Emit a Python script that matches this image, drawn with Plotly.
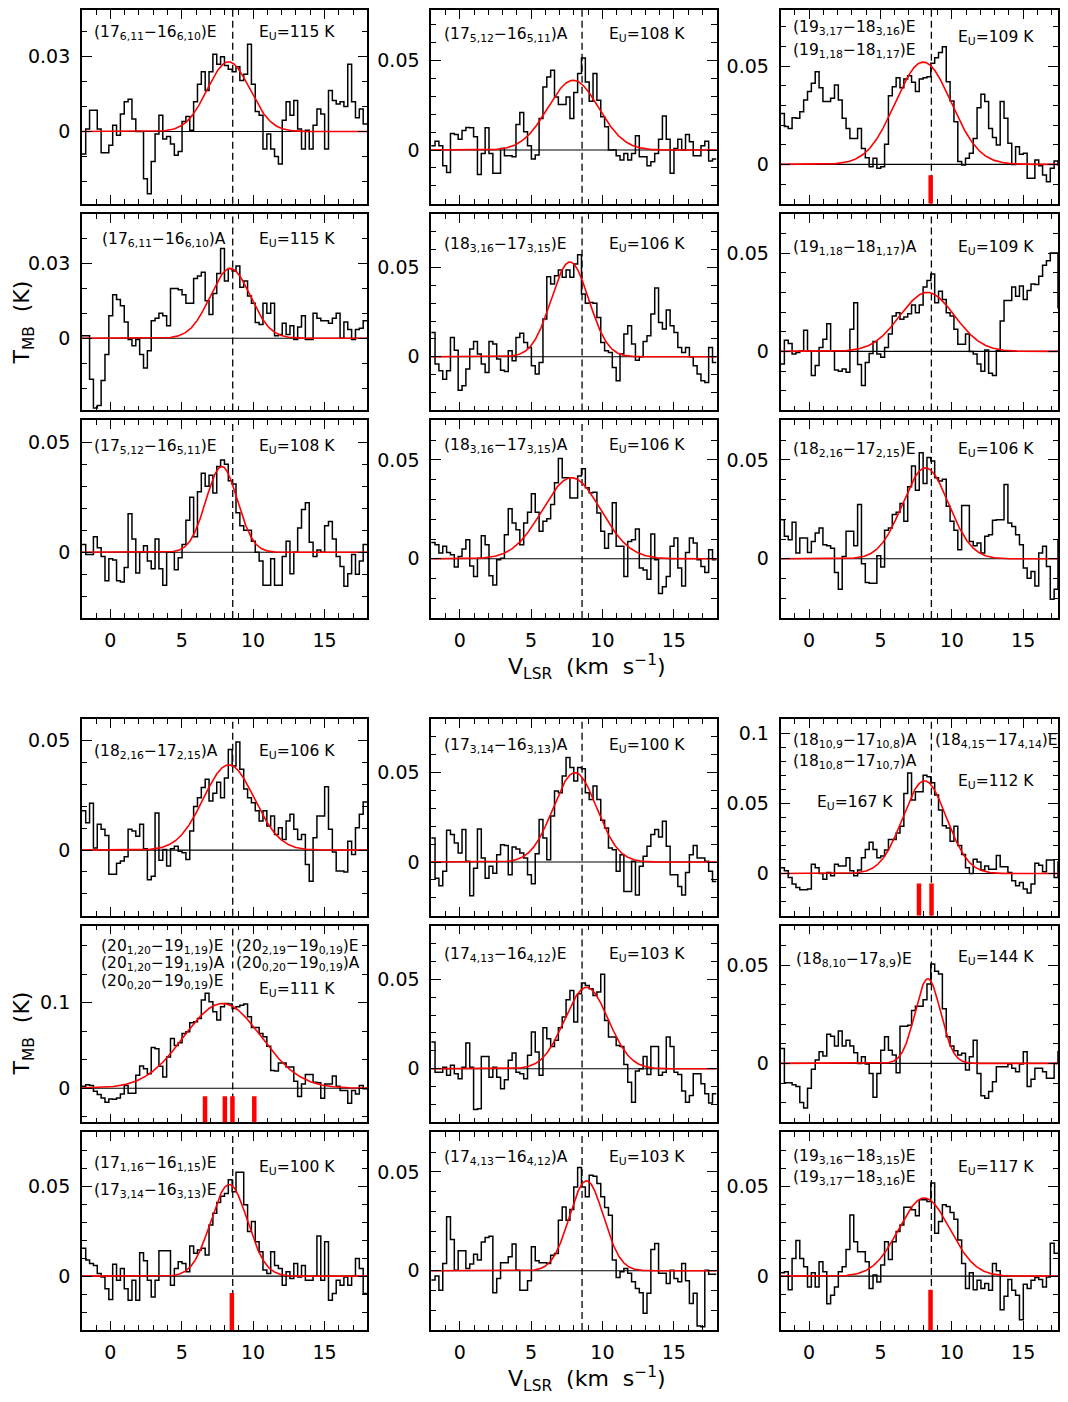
import numpy as np
import plotly.graph_objects as go

# The page body has an 8 px margin on every side: the figure is drawn 16 px smaller
# so the page is exactly 1068x1402, and reference pixel positions are shifted by OFF.
OFF = 8
W, H = 1068 - 2 * OFF, 1402 - 2 * OFF
FONT = "DejaVu Sans"

# ---------------- data ----------------
V_START = -2.0          # km/s, first channel edge
CHAN_W = 0.27           # km/s channel width
V_SYS = 8.57            # km/s, dashed reference velocity
V_RANGE = [-2.0, 18.0]
X_TICKS = [0, 5, 10, 15]

spec_c1r1 = [-0.009, 0.001, 0.0085, 0.0085, 0.001, -0.0085, -0.0085, -0.0055, 0.0025, -0.0015,
             0.007, 0.012, 0.013, 0.005, 0.0, 0.0, -0.019, -0.025, -0.012, -0.001,
             0.0065, -0.003, -0.002, -0.005, -0.0095, -0.008, 0.004, 0.006, 0.0005, 0.012,
             0.019, 0.024, 0.0165, 0.024, 0.031, 0.027, 0.030, 0.0265, 0.025, 0.024,
             0.026, 0.0205, 0.023, 0.035, 0.019, 0.008, 0.0065, -0.007, -0.001, -0.007,
             -0.010, -0.013, 0.0045, 0.012, 0.0065, 0.0125, 0.001, -0.007, 0.0005, -0.007,
             0.0025, 0.009, 0.007, -0.007, 0.0165, 0.0125, 0.011, 0.012, 0.010, 0.027,
             0.012, 0.0055, 0.009, 0.003]
spec_c1r2 = [0.001, 0.001, -0.0165, -0.028, -0.027, -0.017, -0.0065, 0.009, 0.0175, 0.0155,
             0.013, 0.0065, -0.0005, -0.003, -0.0005, -0.0065, -0.012, -0.005, 0.007, 0.008,
             0.010, 0.009, 0.005, 0.020, 0.020, 0.0195, 0.0175, 0.014, 0.014, 0.024,
             0.025, 0.0265, 0.015, 0.0095, 0.018, 0.026, 0.036, 0.023, 0.028, 0.027,
             0.029, 0.0205, 0.023, 0.017, 0.014, 0.0063, 0.0055, 0.014, 0.010, 0.014,
             0.001, 0.0015, 0.006, 0.0015, 0.005, -0.0005, 0.0045, 0.009, -0.0005, -0.0005,
             0.010, 0.008, 0.007, 0.007, 0.006, 0.008, 0.010, 0.0, 0.0065, 0.0035,
             -0.0005, 0.0035, 0.004, 0.007]
spec_c1r3 = [0.0035, -0.001, -0.001, 0.007, 0.002, -0.002, -0.013, -0.003, -0.0035, -0.013,
             -0.0135, -0.007, 0.0175, 0.006, -0.0095, 0.0, 0.003, -0.004, -0.0075, 0.006,
             -0.0075, -0.015, 0.0, 0.0, -0.008, -0.0025, 0.0035, 0.0145, 0.025, 0.007,
             0.0275, 0.036, 0.030, 0.035, 0.027, 0.039, 0.042, 0.040, 0.0325, 0.031,
             0.018, 0.012, 0.010, 0.010, 0.005, 0.0, -0.004, -0.015, -0.015, -0.003,
             -0.015, -0.015, -0.002, 0.005, -0.0098, 0.0, 0.011, 0.0195, 0.0225, 0.0045,
             -0.002, 0.001, 0.0, 0.012, 0.014, 0.006, -0.002, -0.0065, -0.0155, -0.0098,
             -0.001, -0.010, -0.004, 0.0035]
spec_c1r4 = [0.018, 0.0125, 0.0215, 0.001, 0.0118, 0.0095, 0.0067, -0.011, -0.011, -0.006,
             -0.005, -0.003, 0.0095, 0.0087, 0.0064, 0.0118, 0.0006, -0.0135, -0.012, 0.017,
             -0.0046, 0.0003, -0.0073, 0.0006, 0.0018, -0.0005, -0.0012, -0.0043, 0.0087, 0.020,
             0.024, 0.0286, 0.0324, 0.0225, 0.026, 0.031, 0.024, 0.033, 0.046, 0.0385,
             0.0495, 0.037, 0.028, 0.024, 0.0217, 0.018, 0.0133, 0.018, 0.011, 0.0156,
             0.0072, 0.0102, 0.0049, 0.0133, 0.0164, 0.0095, 0.0049, 0.0072, -0.0066, -0.0142,
             0.0057, 0.0156, 0.0156, 0.029, 0.0095, -0.0009, -0.0096, -0.0096, -0.010, 0.0041,
             -0.002, 0.0102, 0.0164, 0.022]
spec_c1r5 = [0.0024, 0.004, 0.003, -0.0035, -0.0075, -0.0114, -0.0165, -0.0125, -0.013, -0.0114,
             -0.0067, 0.003, -0.006, -0.006, 0.015, 0.026, 0.0227, 0.0169, 0.0475, 0.046,
             0.0255, 0.013, 0.0365, 0.058, 0.050, 0.053, 0.064, 0.066, 0.0765, 0.0776,
             0.0816, 0.103, 0.111, 0.101, 0.0894, 0.0796, 0.0953, 0.099, 0.0984, 0.0933,
             0.0953, 0.097, 0.0984, 0.0835, 0.071, 0.071, 0.064, 0.060, 0.049, 0.0208,
             0.020, 0.0294, 0.0294, 0.0247, 0.0247, 0.0082, -0.0098, 0.005, 0.016, 0.016,
             0.007, 0.0063, -0.0118, 0.005, 0.005, 0.0141, 0.0024, -0.0027, -0.0027, -0.0176,
             -0.0027, -0.0067, 0.003, -0.0008]
spec_c1r6 = [0.0155, 0.009, 0.007, 0.006, 0.0015, -0.0004, -0.007, -0.013, 0.0067, -0.0022,
             0.0043, -0.007, -0.0134, -0.0022, -0.0134, 0.013, 0.0086, -0.0022, -0.0116, -0.0022,
             0.0142, 0.0142, 0.0142, -0.005, 0.0043, 0.008, 0.007, 0.0024, 0.0168, 0.0127,
             0.0146, 0.0155, 0.0118, 0.0285, 0.035, 0.041, 0.0444, 0.046, 0.0537, 0.047,
             0.0578, 0.0578, 0.0397, 0.0248, 0.0304, 0.0192, 0.0136, 0.0034, 0.0015, 0.0136,
             0.006, 0.0043, -0.005, 0.0024, -0.0013, 0.007, -0.0004, 0.006, -0.0022, -0.0022,
             0.0, 0.0224, -0.0022, 0.0192, -0.0134, -0.0097, -0.0022, -0.005, -0.0004, -0.005,
             0.0, 0.0099, 0.0043, -0.0097]
spec_c2r1 = [0.0024, 0.005, 0.0024, -0.0087, -0.0125, 0.0093, 0.0087, 0.0061, 0.011, 0.0126,
             0.0125, 0.0074, -0.0136, -0.0019, 0.0125, -0.0019, -0.013, -0.013, 0.0009, -0.0032,
             -0.0032, -0.0037, 0.0143, 0.021, 0.0102, 0.0024, -0.005, -0.0028, 0.0177, 0.0353,
             0.0409, 0.0446, 0.0297, 0.0255, 0.0255, 0.0297, 0.0177, 0.0322, 0.0428, 0.0515,
             0.0381, 0.0273, 0.0428, 0.0279, 0.0186, 0.013, 0.0, 0.0, -0.0032, -0.0056,
             -0.0019, -0.0056, -0.0019, 0.008, -0.0037, -0.0037, -0.0087, -0.0065, -0.0019, 0.0061,
             0.0191, 0.0061, -0.013, 0.0009, 0.0061, 0.0, 0.0087, 0.0046, -0.0032, -0.0032,
             0.0024, 0.005, -0.0061, -0.005]
spec_c2r2 = [0.0136, -0.0041, -0.0078, -0.0125, -0.0078, 0.0108, 0.0037, -0.0187, -0.0162, -0.0069,
             0.0043, 0.0086, 0.0015, -0.0041, -0.0088, 0.0086, 0.0071, -0.0013, -0.0075, -0.0082,
             0.0034, -0.0022, 0.0108, 0.0131, 0.008, 0.0052, -0.005, -0.0097, -0.0032, 0.0211,
             0.0448, 0.0407, 0.0453, 0.0485, 0.0444, 0.0485, 0.0444, 0.0519, 0.0571, 0.0351,
             0.0299, 0.0304, 0.0299, 0.022, 0.008, 0.0034, 0.0024, -0.006, -0.0134, 0.0015,
             0.0127, 0.0174, 0.0071, -0.0019, 0.0, 0.0086, 0.0118, 0.0239, 0.0384, 0.0192,
             0.0155, 0.0261, 0.0174, 0.0136, 0.0052, 0.0024, 0.0052, 0.0, -0.005, -0.0097,
             -0.0134, -0.0144, 0.0052, -0.0032]
spec_c2r3 = [0.0083, 0.0071, 0.0029, 0.0063, 0.0032, 0.002, -0.0042, 0.0012, 0.0049, 0.0097,
             -0.0036, -0.009, 0.0003, 0.0117, 0.0071, -0.0086, -0.0132, -0.0005, 0.0003, 0.0122,
             0.0253, 0.0181, 0.0147, 0.0071, 0.0181, 0.0236, 0.0329, 0.0236, 0.0139, 0.019,
             0.0202, 0.0275, 0.0385, 0.0507, 0.041, 0.041, 0.0308, 0.0308, 0.0419, 0.0456,
             0.0359, 0.0334, 0.0337, 0.0232, 0.0139, 0.0054, 0.0127, 0.0283, 0.0063, 0.0063,
             -0.009, 0.0088, 0.0097, 0.0151, -0.0047, -0.0056, -0.0103, 0.0125, -0.0005, -0.0175,
             -0.0141, -0.009, 0.0063, 0.0105, -0.0047, -0.0137, 0.0032, 0.0105, 0.008, -0.0005,
             -0.0039, -0.0069, 0.0046, -0.0005]
spec_c2r4 = [0.0135, -0.009, -0.0133, -0.0052, 0.0178, 0.0154, 0.0107, 0.0051, 0.0182, 0.0004,
             -0.0189, -0.0034, 0.0185, 0.0022, -0.009, -0.0024, -0.0062, 0.0041, 0.0097, 0.0092,
             -0.0071, 0.0084, 0.0073, 0.0051, 0.0022, -0.0071, -0.0122, 0.0047, 0.0238, 0.0135,
             0.0013, 0.0257, 0.0397, 0.0388, 0.0481, 0.0584, 0.0528, 0.0453, 0.0528, 0.0522,
             0.0388, 0.035, 0.0425, 0.035, 0.0234, 0.0191, 0.0079, 0.0069, -0.0052, 0.0041,
             -0.0165, -0.0165, 0.0004, -0.0184, -0.0024, 0.0032, 0.0088, 0.0154, 0.0182, 0.014,
             0.0228, 0.0088, -0.0071, -0.0071, -0.0137, -0.0184, -0.0058, 0.0041, 0.0092, 0.0022,
             0.0022, 0.0004, -0.0052, -0.0109]
spec_c2r5 = [0.0149, -0.0019, -0.0019, 0.0009, -0.0037, 0.0019, -0.0028, -0.0056, 0.0009, 0.0144,
             0.0009, -0.0228, -0.0224, 0.0069, 0.0069, -0.0047, 0.0009, -0.0047, -0.0112, -0.0062,
             0.0047, 0.0088, -0.0019, -0.0028, -0.0056, 0.0075, 0.0205, 0.0093, -0.0037, 0.0229,
             0.0168, 0.0125, 0.0159, 0.0229, 0.0289, 0.0386, 0.0438, 0.0261, 0.042, 0.0479,
             0.0466, 0.0448, 0.041, 0.0429, 0.0528, 0.027, 0.0177, 0.0177, 0.013, 0.0125,
             0.0024, -0.0075, -0.0187, -0.0013, 0.0, 0.0069, -0.0032, 0.0125, 0.0125, -0.0037,
             -0.0019, 0.0177, 0.0125, -0.0019, -0.0032, -0.0125, -0.0187, -0.0149, -0.0028, -0.0028,
             -0.0084, -0.014, -0.0192, -0.014]
spec_c2r6 = [-0.0047, -0.0027, -0.0098, 0.0037, 0.0273, 0.0158, 0.0003, 0.0101, 0.0101, 0.0012,
             0.0034, 0.0084, 0.0054, 0.0146, 0.0168, 0.0175, -0.0111, -0.0039, 0.004, 0.004,
             0.0071, 0.0135, 0.0003, -0.0098, -0.0098, -0.0051, 0.0121, 0.0051, 0.004, 0.004,
             0.0037, 0.0079, 0.0088, 0.0256, 0.0323, 0.0256, 0.031, 0.0424, 0.0522, 0.0424,
             0.0374, 0.0483, 0.0478, 0.0441, 0.0374, 0.032, 0.0281, 0.0054, -0.0034, -0.0005,
             0.0012, -0.0013, -0.0056, -0.0089, -0.0111, -0.0215, -0.0114, 0.0108, 0.0138, -0.0013,
             -0.0013, -0.0064, 0.0003, -0.0039, -0.0056, 0.0037, -0.0051, -0.0165, -0.0114, -0.0279,
             -0.0283, 0.0003, -0.0017, -0.0017]
spec_c3r1 = [0.0259, 0.0192, 0.0183, 0.0237, 0.0234, 0.0268, 0.0327, 0.037, 0.0412, 0.0471,
             0.039, 0.0319, 0.0319, 0.0336, 0.0403, 0.0327, 0.0234, 0.0183, 0.0132, 0.0132,
             0.0183, 0.0081, 0.0034, -0.0012, 0.0031, -0.002, -0.0012, 0.0102, 0.0349, 0.0395,
             0.0441, 0.039, 0.0434, 0.0451, 0.0417, 0.037, 0.0434, 0.0441, 0.0446, 0.0514,
             0.0542, 0.0569, 0.0598, 0.042, 0.0322, 0.0217, 0.0014, -0.0003, 0.0031, 0.0056,
             0.0132, 0.0288, 0.0356, 0.0319, 0.0183, 0.0136, 0.0098, 0.0319, 0.0234, 0.0107,
             0.0, 0.009, 0.0051, 0.0056, -0.0071, -0.0071, 0.0022, -0.0007, -0.0054, -0.0088,
             -0.002, 0.0017, -0.0003, -0.0003]
spec_c3r2 = [-0.0064, 0.0057, 0.004, -0.0013, -0.0005, 0.0003, 0.0108, 0.0003, -0.0123, -0.0072,
             0.002, 0.0062, 0.0141, 0.0003, -0.0094, -0.0101, -0.0089, -0.0106, 0.0113, 0.0247,
             -0.0067, -0.0173, -0.0056, -0.001, 0.0051, -0.0013, -0.003, 0.002, 0.0088, 0.018,
             0.0197, 0.0163, 0.0175, 0.0192, 0.0236, 0.0197, 0.0236, 0.0327, 0.036, 0.0394,
             0.0247, 0.0306, 0.0264, 0.0197, 0.018, 0.0113, 0.0037, 0.0037, 0.0088, 0.0,
             -0.0013, -0.0064, -0.0101, 0.0007, -0.0111, -0.0123, 0.0003, 0.0155, 0.0259, 0.0259,
             0.0327, 0.0281, 0.0332, 0.0264, 0.031, 0.0343, 0.034, 0.0382, 0.0438, 0.0461,
             0.05, 0.05, 0.0222, 0.0054]
spec_c3r3 = [0.0198, 0.0114, 0.0097, 0.0185, 0.0029, 0.0105, 0.0105, 0.0032, 0.0088, 0.0131,
             0.0156, 0.0071, 0.0066, 0.0054, -0.0069, -0.0154, 0.0012, 0.0139, 0.0139, 0.0066,
             0.0275, -0.0025, -0.012, -0.0124, -0.0124, 0.0015, -0.0042, 0.0144, 0.0156, 0.0224,
             0.0236, 0.028, 0.019, 0.0364, 0.0469, 0.0347, 0.0537, 0.0381, 0.0512, 0.0495,
             0.041, 0.0393, 0.0402, 0.0266, 0.019, 0.0144, 0.0046, 0.027, 0.027, 0.0088,
             0.0066, 0.008, 0.0029, 0.0114, 0.0122, 0.0195, 0.0198, 0.0198, 0.0376, 0.0181,
             0.0164, 0.0122, 0.0071, -0.0047, -0.0098, -0.0064, -0.0137, 0.0029, 0.0063, -0.0039,
             -0.0205, -0.0154, 0.0097, -0.0031]
spec_c3r4 = [0.0042, 0.0019, -0.0028, -0.0075, -0.0099, -0.0115, -0.0115, -0.011, 0.0066, 0.0042,
             0.0, -0.004, 0.0007, -0.0016, 0.0066, 0.0054, 0.0054, 0.0113, 0.0019, -0.0016,
             0.0026, 0.0113, 0.0171, 0.0223, 0.0171, 0.0113, 0.0124, 0.0167, 0.0242, 0.0242,
             0.0289, 0.0336, 0.057, 0.0716, 0.0523, 0.0582, 0.0582, 0.07, 0.0688, 0.0646,
             0.0559, 0.0453, 0.034, 0.0324, 0.023, 0.0336, 0.02, 0.0136, 0.0042, 0.0,
             0.0101, 0.0082, 0.0026, 0.0054, 0.0031, 0.0031, 0.0129, 0.0049, 0.0049, 0.0007,
             -0.0052, -0.0087, -0.0063, -0.011, -0.0139, -0.0075, 0.0073, 0.0059, 0.0012, 0.0096,
             0.0096, -0.0028, 0.0082, 0.0082]
spec_c3r5 = [0.0076, -0.0098, -0.0098, -0.0109, -0.0118, -0.0199, -0.0227, -0.0126, -0.003, 0.0017,
             0.0059, 0.0037, 0.0148, 0.0138, 0.0088, 0.0165, 0.0088, 0.0118, 0.0088, 0.0054,
             0.0, 0.0034, -0.0003, -0.0051, -0.0172, -0.0051, 0.0067, 0.0135, 0.0067, 0.0042,
             -0.0047, 0.0189, 0.0189, 0.0194, 0.0269, 0.029, 0.029, 0.0323, 0.0404, 0.0505,
             0.0468, 0.0455, 0.0278, 0.0135, 0.0088, 0.0064, 0.0042, 0.0051, -0.0034, 0.0034,
             0.0118, -0.0051, -0.0165, -0.0177, -0.0143, -0.0093, -0.0017, -0.0017, -0.0017, -0.0003,
             -0.0025, -0.0042, -0.0003, 0.0059, -0.0118, -0.0081, -0.0025, -0.0025, -0.0042, -0.0076,
             -0.0076, 0.0, 0.0059, 0.0101]
spec_c3r6 = [0.0019, 0.0024, -0.0075, 0.0099, 0.0198, 0.0099, 0.0052, -0.006, 0.0019, -0.006,
             0.008, 0.0024, -0.0153, -0.0106, -0.006, 0.0024, 0.0052, 0.0149, 0.0341, 0.0192,
             0.0136, 0.0136, 0.008, -0.0069, 0.0006, -0.0032, 0.0062, 0.0192, 0.0093, 0.0192,
             0.0248, 0.0285, 0.0384, 0.0384, 0.0369, 0.0336, 0.0425, 0.0425, 0.0416, 0.0519,
             0.0239, 0.0304, 0.0397, 0.0388, 0.0354, 0.0317, 0.0201, 0.0071, -0.0069, 0.0019,
             -0.0075, -0.0022, -0.0069, -0.0041, -0.0078, 0.0071, 0.003, -0.0187, -0.0112, -0.0019,
             -0.0078, -0.0106, -0.0243, -0.0045, -0.0069, -0.0022, -0.0007, -0.0019, -0.006, -0.0004,
             0.0183, 0.0127, 0.0127, 0.009]

# Gaussian fits: (peak T_MB [K], centre [km/s], FWHM [km/s])
fit_c1r1 = (0.028, 8.28, 3.5)
fit_c1r2 = (0.028, 8.40, 3.3)
fit_c1r3 = (0.039, 7.80, 2.6)
fit_c1r4 = (0.039, 8.30, 4.2)
fit_c1r5 = (0.099, 7.85, 6.4)
fit_c1r6 = (0.051, 8.32, 3.0)
fit_c2r1 = (0.039, 7.95, 4.2)
fit_c2r2 = (0.053, 7.72, 3.1)
fit_c2r3 = (0.041, 7.83, 4.8)
fit_c2r4 = (0.050, 8.07, 3.6)
fit_c2r5 = (0.0455, 8.88, 3.6)
fit_c2r6 = (0.0455, 8.88, 2.8)
fit_c3r1 = (0.052, 8.00, 4.6)
fit_c3r2 = (0.030, 8.28, 4.5)
fit_c3r3 = (0.046, 8.16, 3.8)
fit_c3r4 = (0.066, 8.09, 3.6)
fit_c3r5 = (0.043, 8.32, 2.1)
fit_c3r6 = (0.0435, 8.07, 4.2)

# line-position markers (km/s) and their upper end (K)
marks_c1r5 = [6.63, 8.02, 8.55, 10.08]
marks_c1r6 = [8.51]
marks_c3r1 = [8.52]
marks_c3r4 = [7.70, 8.58]
marks_c3r6 = [8.51]
mtop_c1r5, mtop_c1r6, mtop_c3r1, mtop_c3r4, mtop_c3r6 = -0.0094, -0.0093, -0.0055, -0.0071, -0.0075

# y-axis ranges and tick labels
yr_c1 = [[-0.029, 0.05], [-0.029, 0.05], [-0.03, 0.06], [-0.03, 0.06], [-0.04, 0.19], [-0.03, 0.08]]
yr_c2 = [[-0.03, 0.08], [-0.03, 0.08], [-0.03, 0.07], [-0.03, 0.08], [-0.03, 0.08], [-0.03, 0.07]]
yr_c3 = [[-0.02, 0.08], [-0.03, 0.07], [-0.03, 0.07], [-0.03, 0.11], [-0.03, 0.07], [-0.03, 0.08]]
yt_c1 = [[0, 0.03], [0, 0.03], [0, 0.05], [0, 0.05], [0, 0.1], [0, 0.05]]
yt_c2 = [[0, 0.05]] * 6
yt_c3 = [[0, 0.05], [0, 0.05], [0, 0.05], [0, 0.05, 0.1], [0, 0.05], [0, 0.05]]
ytext = {0: "0", 0.03: "0.03", 0.05: "0.05", 0.1: "0.1"}

# transition labels
def tr(a, b, c, d, s):
    return f"({a}<sub>{b}</sub>−{c}<sub>{d}</sub>){s}"

def eu(v):
    return f"E<sub>U</sub>={v}\u00a0K"

lab_c1 = [
    [(tr(17, "6,11", 16, "6,10", "E"), -1.27, 26), (eu(115), 10.27, 26)],
    [(tr(17, "6,11", 16, "6,10", "A"), -0.72, 26), (eu(115), 10.27, 26)],
    [(tr(17, "5,12", 16, "5,11", "E"), -1.27, 27), (eu(108), 10.27, 27)],
    [(tr(18, "2,16", 17, "2,15", "A"), -1.27, 33), (eu(106), 10.27, 33)],
    [(tr(20, "1,20", 19, "1,19", "E"), -0.77, 21), (tr(20, "1,20", 19, "1,19", "A"), -0.77, 38.5),
     (tr(20, "0,20", 19, "0,19", "E"), -0.77, 56), (tr(20, "2,19", 19, "0,19", "E"), 8.69, 21),
     (tr(20, "0,20", 19, "0,19", "A"), 8.69, 38.5), (eu(111), 10.27, 64)],
    [(tr(17, "1,16", 16, "1,15", "E"), -1.27, 32), (tr(17, "3,14", 16, "3,13", "E"), -1.27, 58.5),
     (eu(100), 10.27, 36)],
]
lab_c2 = [
    [(tr(17, "5,12", 16, "5,11", "A"), -1.25, 28), (eu(108), 10.3, 28)],
    [(tr(18, "3,16", 17, "3,15", "E"), -1.25, 31), (eu(106), 10.3, 31)],
    [(tr(18, "3,16", 17, "3,15", "A"), -1.25, 26), (eu(106), 10.3, 26)],
    [(tr(17, "3,14", 16, "3,13", "A"), -1.25, 27), (eu(100), 10.3, 27)],
    [(tr(17, "4,13", 16, "4,12", "E"), -1.25, 29), (eu(103), 10.3, 29)],
    [(tr(17, "4,13", 16, "4,12", "A"), -1.25, 26), (eu(103), 10.3, 26)],
]
lab_c3 = [
    [(tr(19, "3,17", 18, "3,16", "E"), -1.27, 21), (tr(19, "1,18", 18, "1,17", "E"), -1.27, 44),
     (eu(109), 10.3, 31.5)],
    [(tr(19, "1,18", 18, "1,17", "A"), -1.27, 34), (eu(109), 10.3, 34)],
    [(tr(18, "2,16", 17, "2,15", "E"), -1.27, 30), (eu(106), 10.3, 30)],
    [(tr(18, "10,9", 17, "10,8", "A"), -1.27, 22.5), (tr(18, "10,8", 17, "10,7", "A"), -1.27, 43.5),
     (eu(167), 0.4, 84), (tr(18, "4,15", 17, "4,14", "E"), 8.70, 22.5), (eu(112), 10.3, 63.5)],
    [(tr(18, "8,10", 17, "8,9", "E"), -1.04, 34), (eu(144), 10.3, 32.5)],
    [(tr(19, "3,16", 18, "3,15", "E"), -1.27, 25), (tr(19, "3,17", 18, "3,16", "E"), -1.27, 46),
     (eu(117), 10.3, 36)],
]

spectra = [[spec_c1r1, spec_c1r2, spec_c1r3, spec_c1r4, spec_c1r5, spec_c1r6],
           [spec_c2r1, spec_c2r2, spec_c2r3, spec_c2r4, spec_c2r5, spec_c2r6],
           [spec_c3r1, spec_c3r2, spec_c3r3, spec_c3r4, spec_c3r5, spec_c3r6]]
fits = [[fit_c1r1, fit_c1r2, fit_c1r3, fit_c1r4, fit_c1r5, fit_c1r6],
        [fit_c2r1, fit_c2r2, fit_c2r3, fit_c2r4, fit_c2r5, fit_c2r6],
        [fit_c3r1, fit_c3r2, fit_c3r3, fit_c3r4, fit_c3r5, fit_c3r6]]
marks = {(0, 4): (marks_c1r5, mtop_c1r5), (0, 5): (marks_c1r6, mtop_c1r6),
         (2, 0): (marks_c3r1, mtop_c3r1), (2, 3): (marks_c3r4, mtop_c3r4),
         (2, 5): (marks_c3r6, mtop_c3r6)}
yranges = [yr_c1, yr_c2, yr_c3]
yticks = [yt_c1, yt_c2, yt_c3]
labels = [lab_c1, lab_c2, lab_c3]

# ---------------- layout geometry (reference pixels) ----------------
COL_X = [(82, 368), (432, 718), (782, 1068)]
ROW_Y = [(5, 202), (212, 409), (419, 617), (718, 915), (925, 1122), (1132, 1330)]
X_LIM = (OFF, OFF + W)   # visible page pixels covered by the figure
Y_LIM = (OFF, OFF + H)


def fx(px):
    return min(max((px - OFF) / W, 0.0), 1.0)


def fy(py):
    return min(max(1 - (py - OFF) / H, 0.0), 1.0)


fig = go.Figure()
layout = dict(width=W, height=H, margin=dict(l=0, r=0, t=0, b=0),
              paper_bgcolor="white", plot_bgcolor="white", showlegend=False)
shapes, annotations = [], []
v_fine = np.linspace(V_RANGE[0], V_RANGE[1], 801)

k = 0
for c in range(3):
    for r in range(6):
        k += 1
        sfx = "" if k == 1 else str(k)
        xa, ya = "x" + sfx, "y" + sfx
        x0p, x1p = COL_X[c]
        y0p, y1p = ROW_Y[r]
        yr = list(yranges[c][r])
        # parts of panels that fall into the page margin are trimmed, keeping the scale
        x1v = min(x1p, X_LIM[1])
        y0v = max(y0p, Y_LIM[0])
        xr_draw = [V_RANGE[0], V_RANGE[0] + (V_RANGE[1] - V_RANGE[0]) * (x1v - x0p) / (x1p - x0p)]
        yr_draw = [yr[0], yr[0] + (yr[1] - yr[0]) * (y1p - y0v) / (y1p - y0p)]
        tick_common = dict(showline=True, linecolor="black", linewidth=1.6, mirror="ticks",
                           ticks="inside", tickcolor="black", tickwidth=1.3, showgrid=False,
                           zeroline=False, fixedrange=True,
                           tickfont=dict(family=FONT, size=19, color="black"))
        layout["xaxis" + sfx] = dict(
            domain=[fx(x0p), fx(x1v)], range=xr_draw, anchor=ya,
            tickmode="array", tickvals=X_TICKS, ticktext=[str(t) for t in X_TICKS],
            ticklen=9, showticklabels=(r in (2, 5)), ticklabelstandoff=4,
            minor=dict(dtick=1, tick0=0, ticks="inside", ticklen=5, tickcolor="black",
                       tickwidth=1.3, showgrid=False),
            **tick_common)
        ydt = 0.1 / 3 if (c == 0 and r == 4) else 0.01
        layout["yaxis" + sfx] = dict(
            domain=[fy(y1p), fy(y0v)], range=yr_draw, anchor=xa,
            tickmode="array", tickvals=yticks[c][r],
            ticktext=[ytext[t] for t in yticks[c][r]],
            ticklen=10, ticklabelstandoff=6,
            minor=dict(dtick=ydt, tick0=0, ticks="inside", ticklen=5.5, tickcolor="black",
                       tickwidth=1.3, showgrid=False),
            **tick_common)

        # zero line and dashed systemic velocity line
        shapes.append(dict(type="line", xref=f"{xa} domain", yref=ya, x0=0, x1=1, y0=0, y1=0,
                           line=dict(color="black", width=1.1), layer="below"))
        shapes.append(dict(type="line", xref=xa, yref=f"{ya} domain", x0=V_SYS, x1=V_SYS,
                           y0=0, y1=1, line=dict(color="black", width=1.3, dash="7px,4px"),
                           layer="below"))

        spec = spectra[c][r]
        edges = V_START + CHAN_W * np.arange(len(spec) + 1)
        fig.add_trace(go.Scatter(x=edges, y=list(spec) + [spec[-1]], mode="lines",
                                 line=dict(color="black", width=1.5, shape="hv"),
                                 xaxis=xa, yaxis=ya, hoverinfo="skip"))
        amp, cen, fw = fits[c][r]
        g = amp * np.exp(-4 * np.log(2) * (v_fine - cen) ** 2 / fw ** 2)
        fig.add_trace(go.Scatter(x=v_fine, y=g, mode="lines",
                                 line=dict(color="#ff0000", width=1.6),
                                 xaxis=xa, yaxis=ya, hoverinfo="skip"))

        if (c, r) in marks:
            mx, mtop = marks[(c, r)]
            for v in mx:
                shapes.append(dict(type="line", xref=xa, yref=ya, x0=v, x1=v, y0=mtop,
                                   y1=yr[0], line=dict(color="#ff0000", width=4.5)))

        for text, xv, d in labels[c][r]:
            annotations.append(dict(text=text, x=xv, xref=xa, y=fy(y0p + d),
                                    yref="paper", xanchor="left", yanchor="middle",
                                    showarrow=False,
                                    font=dict(family=FONT, size=15.5, color="black")))

# axis titles (the lower one sits a little higher so its subscript stays on the page)
for yc in (665.7, 1379):
    annotations.append(dict(text="V<sub>LSR</sub>\u00a0\u00a0(km\u00a0\u00a0s<sup>−1</sup>)",
                            x=fx(588), y=fy(yc), xref="paper", yref="paper",
                            xanchor="center", yanchor="middle", showarrow=False,
                            font=dict(family=FONT, size=22, color="black")))
for yc in (321, 1033):
    annotations.append(dict(text="T<sub>MB</sub>\u00a0\u00a0(K)", x=fx(24), y=fy(yc),
                            xref="paper", yref="paper", xanchor="center", yanchor="middle",
                            textangle=-90, showarrow=False,
                            font=dict(family=FONT, size=22, color="black")))

layout["shapes"] = shapes
layout["annotations"] = annotations
fig.update_layout(**layout)
fig.write_html("out.html")
